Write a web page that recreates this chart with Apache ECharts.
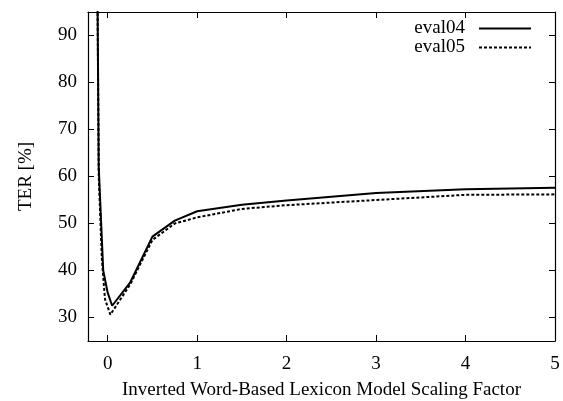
<!DOCTYPE html>
<html>
<head>
<meta charset="utf-8">
<script src="https://cdn.jsdelivr.net/npm/echarts@6/dist/echarts.min.js"></script>
<style>html,body{margin:0;padding:0;background:#fff}#c{width:563px;height:401px}</style>
</head>
<body>
<div id="c"></div>
<script>
var seriesNames = ['eval04', 'eval05'];
var xTicks = [0, 1, 2, 3, 4, 5];
var yTicks = [30, 40, 50, 60, 70, 80, 90];
var eval04X = [-0.12, -0.1, -0.05, 0, 0.05, 0.25, 0.5, 0.75, 1, 1.5, 2, 3, 4, 5];
var eval04Y = [115, 62, 40, 35.3, 32.5, 37.4, 47.2, 50.6, 52.6, 54.0, 54.9, 56.5, 57.3, 57.6];
var eval05X = [-0.12, -0.1, -0.065, -0.03, 0.03, 0.25, 0.5, 0.75, 1, 1.5, 2, 3, 4, 5];
var eval05Y = [115, 60, 42.4, 33.9, 30.6, 37.0, 46.5, 50.0, 51.3, 53.1, 53.9, 55.0, 56.1, 56.2];

function pairs(xs, ys) { return xs.map(function (x, i) { return [x, ys[i]]; }); }

var font = 'Liberation Serif';
var fs = 19;
var chart = echarts.init(document.getElementById('c'));
var axisLine = { show: true, onZero: false, lineStyle: { color: '#000', width: 1.2 } };
var tick = { show: true, inside: true, length: 6, lineStyle: { color: '#000', width: 1 } };
chart.setOption({
  animation: false,
  backgroundColor: '#fff',
  grid: { left: 88, right: 8, top: 12, bottom: 60, containLabel: false, outerBoundsMode: 'none' },
  legend: {
    orient: 'vertical', right: 26, top: 14, align: 'right',
    itemWidth: 52, itemHeight: 14, itemGap: 0,
    itemStyle: { opacity: 0 },
    textStyle: { fontFamily: font, fontSize: fs, color: '#000', padding: [0, 9, 0, 0] },
    data: seriesNames
  },
  xAxis: [{
    type: 'value', min: -0.22, max: 5,
    name: 'Inverted Word-Based Lexicon Model Scaling Factor',
    nameLocation: 'middle', nameGap: 40,
    nameTextStyle: { fontFamily: font, fontSize: fs, color: '#000' },
    axisLine: axisLine, splitLine: { show: false },
    axisTick: Object.assign({ customValues: xTicks }, tick),
    axisLabel: { customValues: xTicks, margin: 14, fontFamily: font, fontSize: fs, color: '#000' }
  }, {
    type: 'value', min: -0.22, max: 5, position: 'top',
    axisLine: axisLine, splitLine: { show: false },
    axisTick: Object.assign({ customValues: xTicks }, tick),
    axisLabel: { show: false }
  }],
  yAxis: [{
    type: 'value', min: 25, max: 95,
    name: 'TER [%]', nameLocation: 'middle', nameGap: 52, nameRotate: 90,
    nameTextStyle: { fontFamily: font, fontSize: fs, color: '#000' },
    axisLine: axisLine, splitLine: { show: false },
    axisTick: Object.assign({ customValues: yTicks }, tick),
    axisLabel: { customValues: yTicks, margin: 11, fontFamily: font, fontSize: fs, color: '#000' }
  }, {
    type: 'value', min: 25, max: 95, position: 'right',
    axisLine: axisLine, splitLine: { show: false },
    axisTick: Object.assign({ customValues: yTicks }, tick),
    axisLabel: { show: false }
  }],
  series: [{
    name: seriesNames[0], type: 'line', symbol: 'none', data: pairs(eval04X, eval04Y),
    lineStyle: { color: '#000', width: 2, type: 'solid' }, itemStyle: { color: '#000' }
  }, {
    name: seriesNames[1], type: 'line', symbol: 'none', data: pairs(eval05X, eval05Y),
    lineStyle: { color: '#000', width: 2, type: [3, 2] }, itemStyle: { color: '#000' }
  }]
});
</script>
</body>
</html>
